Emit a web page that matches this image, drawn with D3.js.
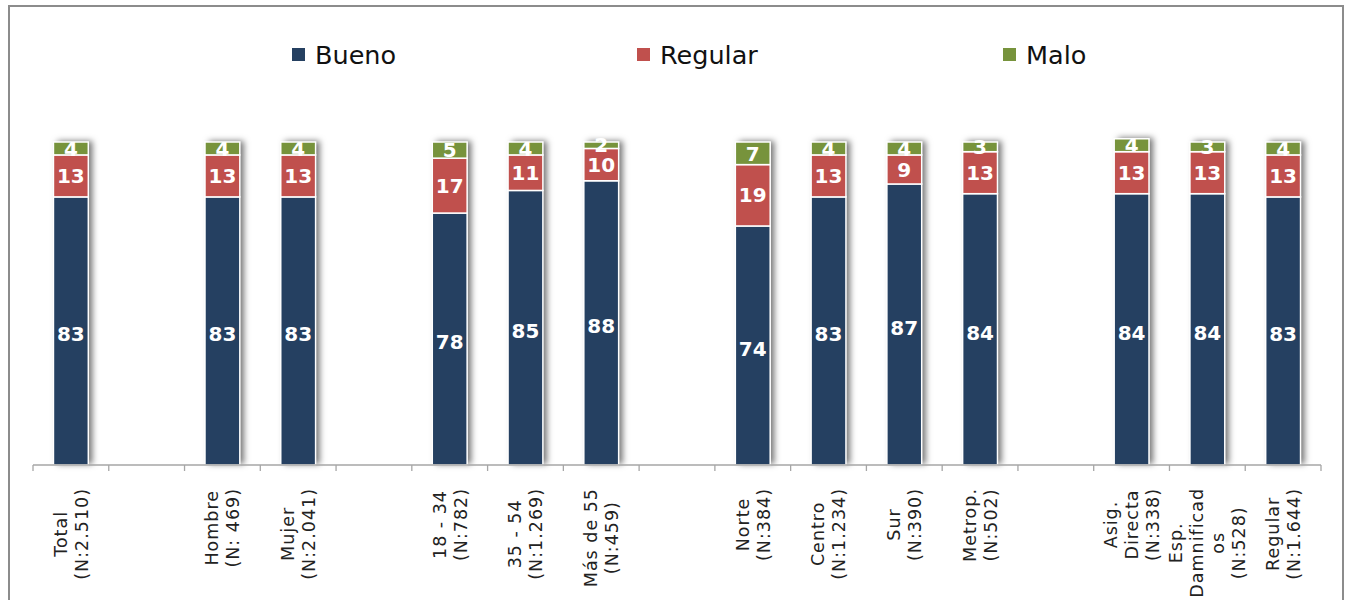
<!DOCTYPE html>
<html>
<head>
<meta charset="utf-8">
<script src="https://cdn.jsdelivr.net/npm/d3@7/dist/d3.min.js"></script>
<style>
  html, body { margin: 0; padding: 0; background: #fff; }
  svg { display: block; }
</style>
</head>
<body>
<svg id="chart" width="1348" height="600"></svg>
<script>
// ---- data ----
const categories = [
  "Total\n(N:2.510)", "",
  "Hombre\n(N: 469)", "Mujer\n(N:2.041)", "",
  "18 - 34\n(N:782)", "35 - 54\n(N:1.269)", "Más de 55\n(N:459)", "",
  "Norte\n(N:384)", "Centro\n(N:1.234)", "Sur\n(N:390)", "Metrop.\n(N:502)", "",
  "Asig.\nDirecta\n(N:338)", "Esp.\nDamnificad\nos\n(N:528)", "Regular\n(N:1.644)"
];
const seriesNames = ["Bueno", "Regular", "Malo"];
const bueno   = [83, null, 83, 83, null, 78, 85, 88, null, 74, 83, 87, 84, null, 84, 84, 83];
const regular = [13, null, 13, 13, null, 17, 11, 10, null, 19, 13,  9, 13, null, 13, 13, 13];
const malo    = [ 4, null,  4,  4, null,  5,  4,  2, null,  7,  4,  4,  3, null,  4,  3,  4];
const colors  = ["#254061", "#C0504D", "#77933C"];

// ---- layout ----
const svg = d3.select("#chart");
const plot = { left: 33, right: 1321, top: 142, bottom: 465 };

const defs = svg.append("defs");
const f = defs.append("filter").attr("id", "shadow")
  .attr("x", "-50%").attr("y", "-20%").attr("width", "200%").attr("height", "140%");
f.append("feDropShadow").attr("dx", 4).attr("dy", -1).attr("stdDeviation", 3)
  .attr("flood-color", "#000").attr("flood-opacity", 0.55);

// frame
svg.append("rect").attr("x", 9).attr("y", 6).attr("width", 1334).attr("height", 620)
  .attr("fill", "#fff").attr("stroke", "#8c8c8c").attr("stroke-width", 2);

const x = d3.scaleBand().domain(d3.range(categories.length))
  .range([plot.left, plot.right]).paddingInner(0.54).paddingOuter(0.27);
const y = d3.scaleLinear().domain([0, 100]).range([plot.bottom, plot.top]);

const seriesVals = [bueno, regular, malo];
const stacked = categories.map((c, i) => {
  let acc = 0;
  return seriesVals.map((s, k) => {
    const v = s[i];
    if (v == null) return null;
    const seg = { i, k, v, y0: acc, y1: acc + v };
    acc += v;
    return seg;
  }).filter(d => d);
});

// bars with shadow
const gBars = svg.append("g");
stacked.forEach((segs, i) => {
  if (!segs.length) return;
  const g = gBars.append("g");
  const total = d3.max(segs, d => d.y1);
  g.append("rect")
    .attr("x", x(i)).attr("width", x.bandwidth())
    .attr("y", y(total)).attr("height", y(0) - y(total))
    .attr("fill", "#fff").attr("filter", "url(#shadow)");
  g.selectAll("rect.seg").data(segs).join("rect").attr("class", "seg")
    .attr("x", x(i)).attr("width", x.bandwidth())
    .attr("y", d => y(d.y1)).attr("height", d => y(d.y0) - y(d.y1))
    .attr("fill", d => colors[d.k])
    .attr("stroke", "#fff").attr("stroke-width", 1.5);
});

// value labels
const gLab = svg.append("g");
stacked.forEach((segs, i) => {
  gLab.selectAll(null).data(segs).join("text")
    .attr("x", x(i) + x.bandwidth() / 2)
    .attr("y", d => (y(d.y0) + y(d.y1)) / 2 + (d.k === 0 ? 3 : 0))
    .attr("dy", "0.36em")
    .attr("text-anchor", "middle")
    .attr("font-family", "DejaVu Sans, Verdana, sans-serif")
    .attr("font-weight", "bold")
    .attr("font-size", 20)
    .attr("fill", "#fff")
    .text(d => d.v);
});

// axis line & ticks
const gAxis = svg.append("g");
gAxis.append("line").attr("x1", plot.left).attr("x2", plot.right)
  .attr("y1", y(0)).attr("y2", y(0)).attr("stroke", "#a6a6a6").attr("stroke-width", 1.3);
const step = x.step();
const x0 = x(0) - step * x.paddingOuter();
d3.range(categories.length + 1).forEach(j => {
  const xx = x0 + j * step;
  gAxis.append("line").attr("x1", xx).attr("x2", xx)
    .attr("y1", y(0)).attr("y2", y(0) + 6).attr("stroke", "#a6a6a6").attr("stroke-width", 1.3);
});

// category labels (rotated)
const gCat = svg.append("g");
const lineGap = 21;
categories.forEach((c, i) => {
  if (!c) return;
  const lines = c.split("\n");
  const cx = x(i) + x.bandwidth() / 2;
  const texts = lines.map((ln, k) => {
    const xl = cx + (k - (lines.length - 1) / 2) * lineGap;
    return gCat.append("text")
      .attr("text-anchor", "middle")
      .attr("dy", "0.36em")
      .attr("font-family", "DejaVu Sans, Verdana, sans-serif")
      .attr("font-size", 17.5)
      .attr("letter-spacing", 1)
      .attr("fill", "#222")
      .attr("data-x", xl)
      .text(ln);
  });
  const maxW = d3.max(texts, t => t.node().getComputedTextLength());
  const yc = y(0) + 23 + maxW / 2;
  texts.forEach(t => t.attr("transform", `translate(${t.attr("data-x")},${yc}) rotate(-90)`));
});

// legend
const legendX = [292, 637, 1003];
const gLeg = svg.append("g");
seriesNames.forEach((n, k) => {
  gLeg.append("rect").attr("x", legendX[k]).attr("y", 48).attr("width", 13).attr("height", 13)
    .attr("fill", colors[k]);
  gLeg.append("text").attr("x", legendX[k] + 23).attr("y", 54.5).attr("dy", "0.36em")
    .attr("font-family", "DejaVu Sans, Verdana, sans-serif")
    .attr("font-size", 25.5).attr("fill", "#111").text(n);
});
</script>
</body>
</html>
